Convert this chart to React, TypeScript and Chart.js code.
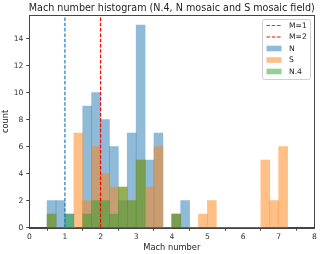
import { useEffect, useRef } from "react";
import { Chart, registerables } from "chart.js";

Chart.register(...registerables);

const binStarts = [0.5, 0.75, 1.0, 1.25, 1.5, 1.75, 2.0, 2.25, 2.5, 2.75, 3.0, 3.25, 3.5, 3.75, 4.0, 4.25, 4.5, 4.75, 5.0, 5.25, 5.5, 5.75, 6.0, 6.25, 6.5, 6.75, 7.0];
const binWidth = 0.25;
const nCounts = [2, 2, 1, 0, 9, 10, 8, 6, 2, 7, 15, 5, 7, 0, 1, 2, 0, 0, 0, 0, 0, 0, 0, 0, 0, 0, 0];
const sCounts = [1, 0, 0, 7, 2, 6, 4, 3, 3, 2, 5, 3, 6, 0, 1, 0, 0, 1, 2, 0, 0, 0, 0, 0, 5, 2, 6];
const n4Counts = [1, 0, 1, 0, 1, 2, 2, 1, 3, 2, 5, 0, 0, 0, 1, 0, 0, 0, 0, 0, 0, 0, 0, 0, 0, 0, 0];
const xTicks = [0, 1, 2, 3, 4, 5, 6, 7, 8];
const yTicks = [0, 2, 4, 6, 8, 10, 12, 14];
const machLines = [1, 2];
const machLabels = ["M=1", "M=2"];
const seriesLabels = ["N", "S", "N.4"];
const titleText = "Mach number histogram (N.4, N mosaic and S mosaic field)";
const xLabel = "Mach number";
const yLabel = "count";
const xMax = 8;
const yMax = 15.75;

const FONT = "DejaVu Sans";

export default function App() {
  const ref = useRef<HTMLCanvasElement | null>(null);

  useEffect(() => {
    document.body.style.margin = "0";
    const canvas = ref.current;
    if (!canvas) return;

    const toBars = (counts: number[]) =>
      binStarts.map((s, i) => ({ x: s + binWidth / 2, y: counts[i] }));

    const decorPlugin = {
      id: "decor",
      afterDraw(chart: any) {
        const { ctx, chartArea } = chart;
        const { left, right, top, bottom } = chartArea;
        ctx.save();
        // frame
        ctx.strokeStyle = "#444";
        ctx.lineWidth = 1;
        ctx.strokeRect(Math.round(left) + 0.5, Math.round(top) + 0.5, Math.round(right - left), Math.round(bottom - top));
        // title
        ctx.fillStyle = "#222";
        ctx.textAlign = "center";
        ctx.textBaseline = "middle";
        ctx.font = `9.6px "${FONT}"`;
        ctx.fillText(titleText, (left + right) / 2, 8);
        // x label
        ctx.font = `8.3px "${FONT}"`;
        ctx.fillText(xLabel, (left + right) / 2, 248);
        // y label
        ctx.save();
        ctx.translate(6, (top + bottom) / 2);
        ctx.rotate(-Math.PI / 2);
        ctx.fillText(yLabel, 0, 0);
        ctx.restore();

        // legend
        const bx = 262.5, by = 19.5, bw = 48, bh = 60;
        ctx.fillStyle = "rgba(255,255,255,0.8)";
        ctx.strokeStyle = "#d0d0d0";
        ctx.lineWidth = 1;
        ctx.beginPath();
        (ctx as any).roundRect(bx, by, bw, bh, 2);
        ctx.fill();
        ctx.stroke();
        const rows = [25.5, 37, 48.5, 60, 71.5];
        const ds = chart.data.datasets;
        ctx.font = `7.6px "${FONT}"`;
        ctx.textAlign = "left";
        ctx.textBaseline = "middle";
        const sx = 266.5, sw = 15, tx = 289;
        ds.forEach((d: any, i: number) => {
          const y = rows[i];
          if (d.type === "line") {
            ctx.strokeStyle = d.borderColor;
            ctx.lineWidth = 1.2;
            ctx.setLineDash([3.5, 1.8]);
            ctx.beginPath();
            ctx.moveTo(sx, y);
            ctx.lineTo(sx + sw, y);
            ctx.stroke();
            ctx.setLineDash([]);
          } else {
            ctx.fillStyle = d.backgroundColor;
            ctx.fillRect(sx, y - 2.8, sw, 5.6);
          }
          ctx.fillStyle = "#222";
          ctx.fillText(d.label, tx, y + 0.5);
        });
        ctx.restore();
      },
    };

    const chart = new Chart(canvas, {
      type: "bar",
      data: {
        datasets: [
          {
            type: "line",
            label: machLabels[0],
            data: [{ x: machLines[0], y: 0 }, { x: machLines[0], y: yMax }],
            borderColor: "#1f77b4",
            borderWidth: 1.2,
            borderDash: [3.5, 1.8],
            pointRadius: 0,
            fill: false,
            order: 0,
          } as any,
          {
            type: "line",
            label: machLabels[1],
            data: [{ x: machLines[1], y: 0 }, { x: machLines[1], y: yMax }],
            borderColor: "#ff0000",
            borderWidth: 1.2,
            borderDash: [3.5, 1.8],
            pointRadius: 0,
            fill: false,
            order: 0,
          } as any,
          {
            label: seriesLabels[0],
            data: toBars(nCounts),
            backgroundColor: "rgba(31,119,180,0.5)",
            borderWidth: 0,
            order: 3,
          },
          {
            label: seriesLabels[1],
            data: toBars(sCounts),
            backgroundColor: "rgba(255,127,14,0.5)",
            borderWidth: 0,
            order: 2,
          },
          {
            label: seriesLabels[2],
            data: toBars(n4Counts),
            backgroundColor: "rgba(44,160,44,0.5)",
            borderWidth: 0,
            order: 1,
          },
        ],
      },
      options: {
        animation: false,
        responsive: false,
        maintainAspectRatio: false,
        devicePixelRatio: 1,
        datasets: {
          bar: {
            barPercentage: 1,
            categoryPercentage: 1,
            grouped: false,
          },
        },
        layout: { padding: { left: 0, top: 15, right: 6.7, bottom: 0 } },
        plugins: {
          legend: { display: false },
          title: { display: false },
          tooltip: { enabled: false },
        },
        scales: {
          x: {
            type: "linear",
            min: 0,
            max: xMax,
            offset: false,
            grid: { display: true, drawOnChartArea: false, drawTicks: true, tickLength: 3, color: "#444" },
            border: { display: true, color: "#444" },
            ticks: {
              color: "#333",
              font: { family: FONT, size: 7.6 },
              padding: 1.5,
              maxRotation: 0,
              autoSkip: false,
            },
            afterBuildTicks: (scale: any) => {
              scale.ticks = xTicks.map((v) => ({ value: v }));
            },
            afterFit: (scale: any) => {
              scale.height = 26.3;
            },
          },
          y: {
            type: "linear",
            min: 0,
            max: yMax,
            grid: { display: true, drawOnChartArea: false, drawTicks: true, tickLength: 3, color: "#444" },
            border: { display: true, color: "#444" },
            ticks: {
              color: "#333",
              font: { family: FONT, size: 7.6 },
              padding: 3,
              autoSkip: false,
            },
            afterBuildTicks: (scale: any) => {
              scale.ticks = yTicks.map((v) => ({ value: v }));
            },
            afterFit: (scale: any) => {
              scale.width = 29.3;
            },
          },
        },
      } as any,
      plugins: [decorPlugin],
    });

    return () => chart.destroy();
  }, []);

  return (
    <div style={{ width: 321, height: 254 }}>
      <canvas ref={ref} width={321} height={254} style={{ display: "block", width: 321, height: 254 }} />
    </div>
  );
}
